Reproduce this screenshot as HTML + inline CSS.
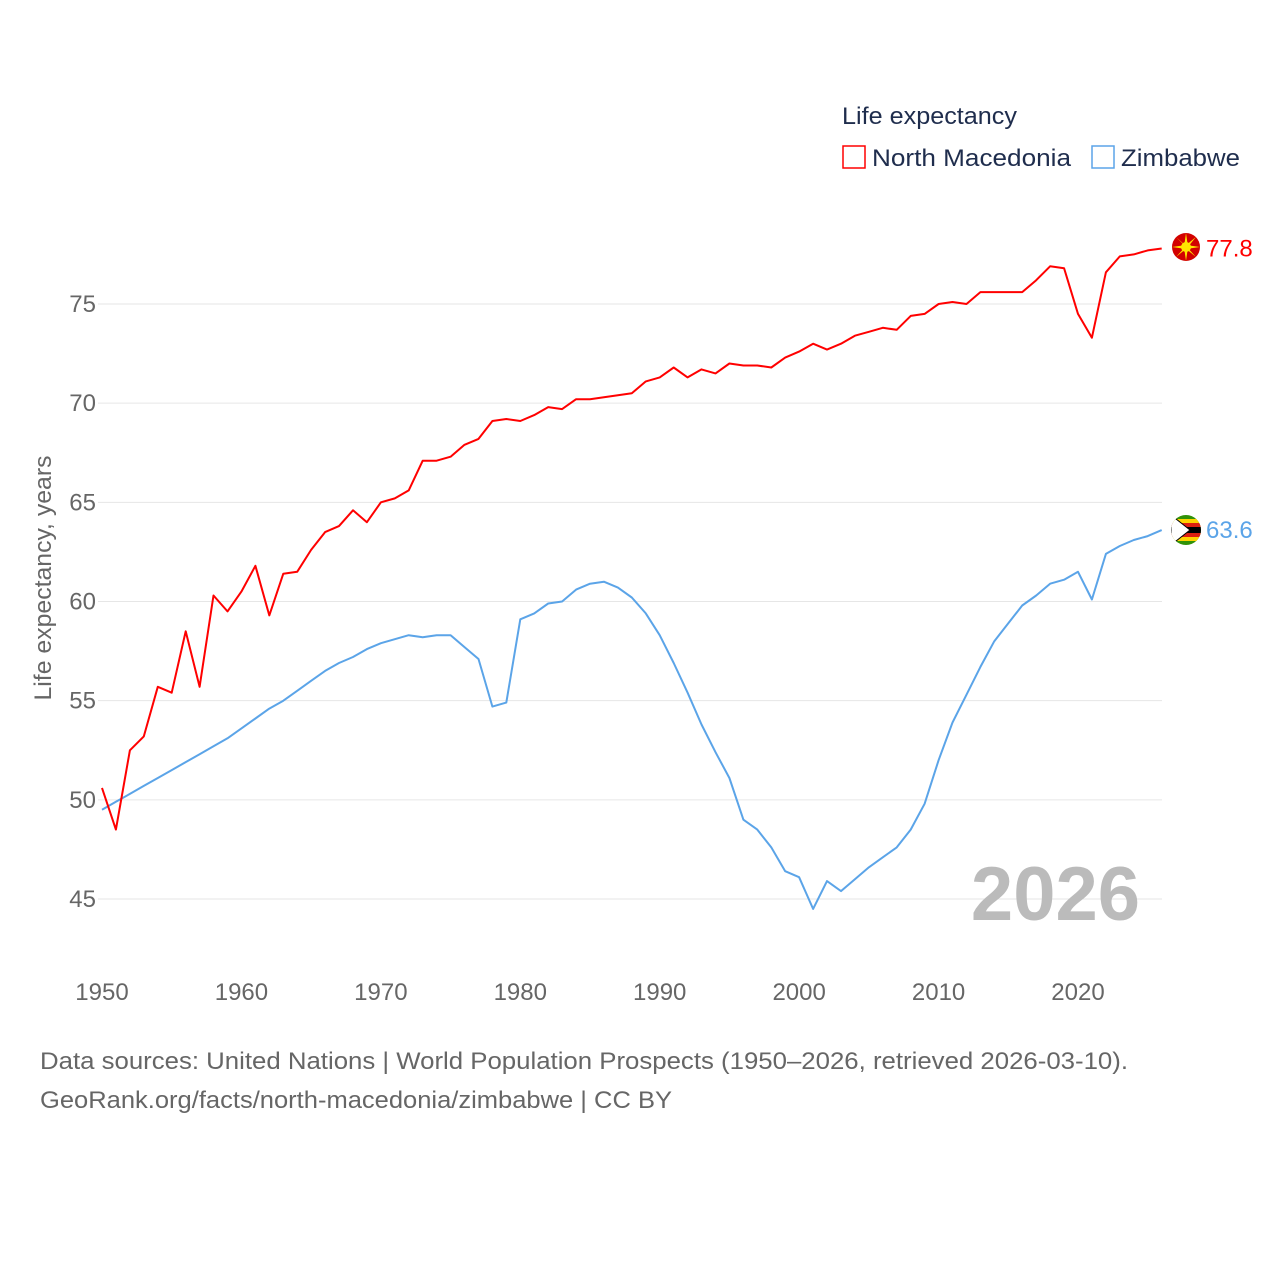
<!DOCTYPE html>
<html><head><meta charset="utf-8"><style>
body{margin:0;background:#fff;font-family:"Liberation Sans",sans-serif}
svg text{font-family:"Liberation Sans",sans-serif}
</style></head><body>
<svg id="chart" width="1280" height="1280" viewBox="0 0 1280 1280" xmlns="http://www.w3.org/2000/svg">
<rect width="1280" height="1280" fill="#fff"/>
<g id="grid"></g>
<g id="yticks"></g>
<g id="xticks"></g>
<text transform="translate(51,578) rotate(-90)" text-anchor="middle" font-size="24" fill="#666" textLength="245" lengthAdjust="spacingAndGlyphs">Life expectancy, years</text>
<text x="1140" y="920" text-anchor="end" font-size="76" font-weight="bold" fill="#bbb">2026</text>
<g id="series"></g>
<g>
<text x="842" y="124" font-size="24" fill="#1f2d4d" textLength="175" lengthAdjust="spacingAndGlyphs">Life expectancy</text>
<g><rect x="843" y="146" width="22" height="22" fill="none" stroke="#f00" stroke-width="1.5"/><text x="872" y="166" font-size="24" fill="#1f2d4d" textLength="199" lengthAdjust="spacingAndGlyphs">North Macedonia</text></g>
<g><rect x="1092" y="146" width="22" height="22" fill="none" stroke="#5ba4e8" stroke-width="1.5"/><text x="1121" y="166" font-size="24" fill="#1f2d4d" textLength="119" lengthAdjust="spacingAndGlyphs">Zimbabwe</text></g>
</g>
<g><circle cx="1186" cy="247" r="14" fill="#d20000"/><circle cx="1186" cy="247" r="5" fill="#ffe600"/><path d="M1186 233 L1184 247 L1188 247Z M1186 261 L1184 247 L1188 247Z M1172 247 L1186 245 L1186 249Z M1200 247 L1186 245 L1186 249Z M1176 237 L1186 246 L1187 248Z M1196 257 L1186 246 L1185 248Z M1196 237 L1185 246 L1187 248Z M1176 257 L1186 246 L1187 248Z" fill="#ffe600"/></g>
<g><clipPath id="zc"><circle cx="1186" cy="530" r="15"/></clipPath><g clip-path="url(#zc)"><rect x="1171" y="515" width="30" height="30" fill="#319208"/><rect x="1171" y="519" width="30" height="4" fill="#ffd200"/><rect x="1171" y="523" width="30" height="4" fill="#de2010"/><rect x="1171" y="527" width="30" height="6" fill="#000"/><rect x="1171" y="533" width="30" height="4" fill="#de2010"/><rect x="1171" y="537" width="30" height="4" fill="#ffd200"/><path d="M1171 515 L1190 530 L1171 545Z" fill="#fff" stroke="#000" stroke-width="1"/></g></g>
<text x="40" y="1069" font-size="24" fill="#666" textLength="1088" lengthAdjust="spacingAndGlyphs">Data sources: United Nations | World Population Prospects (1950–2026, retrieved 2026-03-10).</text>
<text x="40" y="1108" font-size="24" fill="#666" textLength="632" lengthAdjust="spacingAndGlyphs">GeoRank.org/facts/north-macedonia/zimbabwe | CC BY</text>
</svg>
<script>
const years = [];
for (let y = 1950; y <= 2026; y++) years.push(y);
const macedonia = [50.6,48.5,52.5,53.2,55.7,55.4,58.5,55.7,60.3,59.5,60.5,61.8,59.3,61.4,61.5,62.6,63.5,63.8,64.6,64.0,65.0,65.2,65.6,67.1,67.1,67.3,67.9,68.2,69.1,69.2,69.1,69.4,69.8,69.7,70.2,70.2,70.3,70.4,70.5,71.1,71.3,71.8,71.3,71.7,71.5,72.0,71.9,71.9,71.8,72.3,72.6,73.0,72.7,73.0,73.4,73.6,73.8,73.7,74.4,74.5,75.0,75.1,75.0,75.6,75.6,75.6,75.6,76.2,76.9,76.8,74.5,73.3,76.6,77.4,77.5,77.7,77.8];
const zimbabwe = [49.5,49.9,50.3,50.7,51.1,51.5,51.9,52.3,52.7,53.1,53.6,54.1,54.6,55.0,55.5,56.0,56.5,56.9,57.2,57.6,57.9,58.1,58.3,58.2,58.3,58.3,57.7,57.1,54.7,54.9,59.1,59.4,59.9,60.0,60.6,60.9,61.0,60.7,60.2,59.4,58.3,56.9,55.4,53.8,52.4,51.1,49.0,48.5,47.6,46.4,46.1,44.5,45.9,45.4,46.0,46.6,47.1,47.6,48.5,49.8,52.0,53.9,55.3,56.7,58.0,58.9,59.8,60.3,60.9,61.1,61.5,60.1,62.4,62.8,63.1,63.3,63.6];
const yTicks = [45,50,55,60,65,70,75];
const xTicks = [1950,1960,1970,1980,1990,2000,2010,2020];
const NS = "http://www.w3.org/2000/svg";
const xs = y => 102 + (y - 1950) * (976 / 70);
const ys = v => 304 + (75 - v) * (595 / 30);
function mk(tag, attrs, parent){const e=document.createElementNS(NS,tag);for(const k in attrs)e.setAttribute(k,attrs[k]);parent.appendChild(e);return e;}
const grid=document.getElementById('grid'), yt=document.getElementById('yticks'), xt=document.getElementById('xticks'), ser=document.getElementById('series');
yTicks.forEach(v=>{
  const l=mk('line',{x1:98,x2:1162,y1:ys(v),y2:ys(v),stroke:'#e6e6e6','stroke-width':1},grid);
  
  
  const t=mk('text',{x:96,y:ys(v)+8,'text-anchor':'end','font-size':24,fill:'#666'},yt);
  t.textContent=v;
  
  
});
xTicks.forEach(v=>{
  const t=mk('text',{x:xs(v),y:1000,'text-anchor':'middle','font-size':24,fill:'#666'},xt);
  t.textContent=v;
  
  
});
function line(vals,color,name){
  const d=vals.map((v,i)=>(i?'L':'M')+xs(years[i]).toFixed(1)+' '+ys(v).toFixed(1)).join(' ');
  const p=mk('path',{d:d,fill:'none',stroke:color,'stroke-width':2,'stroke-linejoin':'round'},ser);
  
  
  const last=vals[vals.length-1];
  const t=mk('text',{x:1206,y:ys(last)+8,'font-size':24,fill:color},ser);
  t.textContent=last.toFixed(1);
  
  
}
line(zimbabwe,'#5ba4e8','zimbabwe');
line(macedonia,'#f00','north-macedonia');
</script>
</body></html>
